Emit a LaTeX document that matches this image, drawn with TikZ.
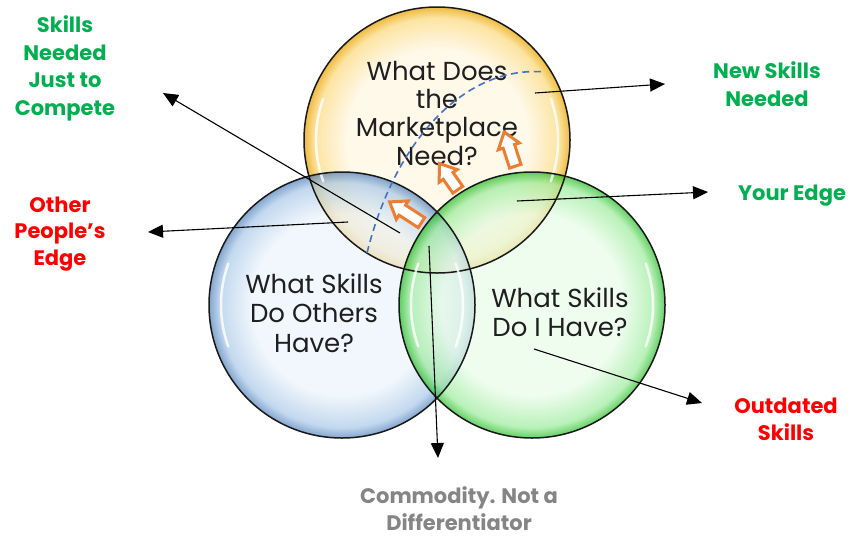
\documentclass[tikz,border=0pt]{standalone}
\usepackage{fontspec}
\setmainfont{Poppins}
\usetikzlibrary{arrows.meta,shapes.arrows}

\definecolor{tagGreen}{HTML}{00B050}
\definecolor{tagRed}{HTML}{FF0000}
\definecolor{tagGrey}{HTML}{858585}
\definecolor{upOrange}{HTML}{ED7D31}
\definecolor{trendBlue}{HTML}{4472C4}
\definecolor{yelIn}{HTML}{FFF7E4}\definecolor{yelMid}{HTML}{FBDD8A}\definecolor{yelRim}{HTML}{EBAA10}
\definecolor{bluIn}{HTML}{EBF3FB}\definecolor{bluMid}{HTML}{A9C8E8}\definecolor{bluRim}{HTML}{4F7FB8}
\definecolor{grnIn}{HTML}{E8FCE8}\definecolor{grnMid}{HTML}{9BEB9B}\definecolor{grnRim}{HTML}{22BB22}

\pgfdeclareradialshading{yelball}{\pgfpoint{0bp}{0bp}}{color(0bp)=(yelIn); color(17bp)=(yelIn); color(23bp)=(yelMid); color(25bp)=(yelRim); color(50bp)=(yelRim)}
\pgfdeclareradialshading{bluball}{\pgfpoint{0bp}{0bp}}{color(0bp)=(bluIn); color(17bp)=(bluIn); color(23bp)=(bluMid); color(25bp)=(bluRim); color(50bp)=(bluRim)}
\pgfdeclareradialshading{grnball}{\pgfpoint{0bp}{0bp}}{color(0bp)=(grnIn); color(17bp)=(grnIn); color(23bp)=(grnMid); color(25bp)=(grnRim); color(50bp)=(grnRim)}

\tikzset{
  rim/.style={draw=black!90, line width=1.5pt},
  gloss/.style={white, line width=2.5pt, opacity=0.8, line cap=round},
  question/.style={anchor=base, align=center, text=black!88, font=\fontsize{26}{#1}\selectfont},
  tag/.style={anchor=base, align=center, font=\fontsize{21}{#1}\selectfont\bfseries},
  pointer/.style={draw=black, line width=1.1pt, -{Triangle[length=15pt,width=13pt]}},
  upmark/.style={single arrow, draw=upOrange, fill=white, line width=3pt, inner sep=4.5pt,
    single arrow head extend=5pt, single arrow tip angle=72, minimum height=#1},
}

\begin{document}
\begin{tikzpicture}[x=1pt,y=-1pt]
  \useasboundingbox (0,0) rectangle (853,536);
  \coordinate (yc) at (437,140);
  \coordinate (bc) at (342,305);
  \coordinate (gc) at (532,305);

  % three glossy balls
  \shade[shading=yelball, opacity=0.8] (yc) circle[radius=133pt];
  \shade[shading=bluball, opacity=0.7] (bc) circle[radius=133pt];
  \shade[shading=grnball, opacity=0.7] (gc) circle[radius=133pt];
  \foreach \c in {yc,bc,gc}{
    \draw[gloss] (\c) ++(160:121pt) arc[start angle=160, end angle=200, radius=121pt];
    \draw[gloss] (\c) ++(-20:121pt) arc[start angle=-20, end angle=20, radius=121pt];
    \draw[rim] (\c) circle[radius=133pt];
  }

  % base anchor sits on the last line
  \node[question=28.3] (need) at (437,165) {What Does\\the\\Marketplace\\Need?};
  \node[question=29.5] (others) at (314,352) {What Skills\\Do Others\\Have?};
  \node[question=29] (mine) at (560,336) {What Skills\\Do I Have?};

  % trend line and the push towards the market
  \draw[trendBlue, line width=1.6pt, dash pattern=on 7pt off 4.5pt]
    (367,253) .. controls (395,140) and (465,65) .. (545,72);
  \node[upmark=38pt, rotate=147] (push1) at (409,214.5) {};
  \node[upmark=32pt, rotate=125] (push2) at (451,180) {};
  \node[upmark=36pt, rotate=108] (push3) at (511,153) {};

  \node[tag=27.4, text=tagGreen] (compete) at (65,115) {Skills\\Needed\\Just to\\Compete};
  \node[tag=26.5, text=tagRed] (otheredge) at (60,265) {Other\\People’s\\Edge};
  \node[tag=28, text=tagGreen] (newskills) at (767,106) {New Skills\\Needed};
  \node[tag=27, text=tagGreen] (youredge) at (792,200) {Your Edge};
  \node[tag=27, text=tagRed] (outdated) at (786,440) {Outdated\\Skills};
  \node[tag=27, text=tagGrey] (commodity) at (459,530) {Commodity. Not a\\Differentiator};

  \coordinate (compete-from) at (400,233);   \coordinate (compete-to) at (163,93);
  \coordinate (otheredge-from) at (348,222); \coordinate (otheredge-to) at (148,232);
  \coordinate (newskills-from) at (535,93);  \coordinate (newskills-to) at (665,84);
  \coordinate (youredge-from) at (517,201);  \coordinate (youredge-to) at (708,192);
  \coordinate (outdated-from) at (534,349);  \coordinate (outdated-to) at (702,403);
  \coordinate (commodity-from) at (429,246); \coordinate (commodity-to) at (438,458);
  \foreach \t in {compete,otheredge,newskills,youredge,outdated,commodity}
    \draw[pointer] (\t-from) -- (\t-to);
\end{tikzpicture}
\end{document}
